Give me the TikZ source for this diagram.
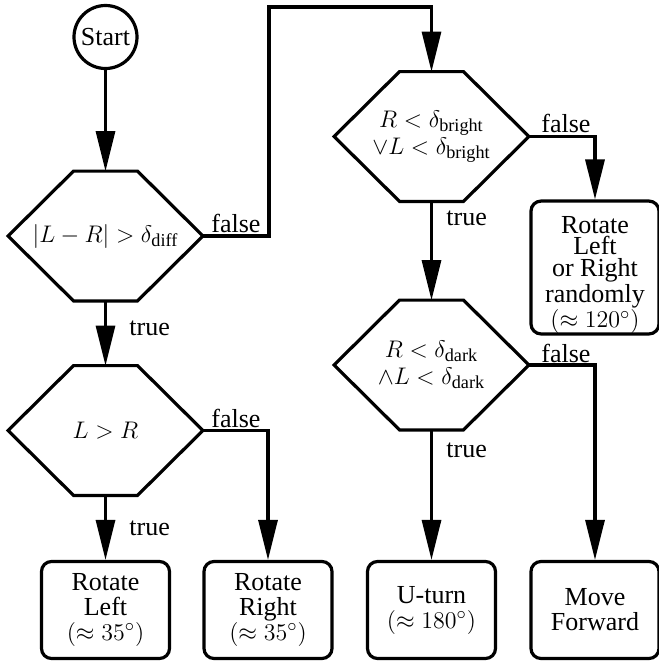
\documentclass[tikz,border=0pt]{standalone}
\usepackage{amsmath}
\usepackage{fontspec}
\setmainfont{Liberation Serif}
\usetikzlibrary{arrows.meta}

% outline of a decision hexagon around a (borderless) node
\newcommand\hexframe[1]{%
  \draw[frame] (#1.west) -- ([xshift=-16pt]#1.north) -- ([xshift=16pt]#1.north)
    -- (#1.east) -- ([xshift=16pt]#1.south) -- ([xshift=-16pt]#1.south) -- cycle;}

\tikzset{
  x=0.5pt, y=-0.5pt,
  every node/.style={font=\fontsize{13}{12.5}\selectfont},
  frame/.style={line width=1.6pt, line join=miter},
  startnode/.style={draw, circle, line width=1.6pt, minimum size=31.5pt, inner sep=0pt},
  decision/.style={minimum width=97pt, minimum height=64.5pt, inner sep=0pt, align=center},
  action/.style={draw, line width=1.6pt, rounded corners=5pt, minimum width=64pt,
    minimum height=48.5pt, inner sep=0pt, align=center},
  flow/.style={line width=1.6pt, -{Triangle[length=20pt,width=9.5pt]}},
  lbl/.style={inner sep=0pt, anchor=base west},
}

\begin{document}
\begin{tikzpicture}
\useasboundingbox (0,0) rectangle (659,665);

% nodes
\node[startnode] (start) at (105.5,37) {Start};
\node[decision] (h1) at (105.5,236) {$|L-R| > \delta_{\text{diff}}$};
\node[decision] (h4) at (105.5,430.5) {$L > R$};
\node[decision] (h2) at (431.5,136.5) {$R < \delta_{\text{bright}}$\\[1pt]$\vee L < \delta_{\text{bright}}$};
\node[decision] (h3) at (431.5,365) {$R < \delta_{\text{dark}}$\\[1pt]$\wedge L < \delta_{\text{dark}}$};
\hexframe{h1}
\hexframe{h2}
\hexframe{h3}
\hexframe{h4}

\node[action] (rl) at (105.5,610) {Rotate\\Left\\$(\approx 35^\circ)$};
\node[action] (rr) at (268,610) {Rotate\\Right\\$(\approx 35^\circ)$};
\node[action] (ut) at (431.5,610) {U-turn\\$(\approx 180^\circ)$};
\node[action] (mf) at (595,610) {Move\\Forward};
\node[action, minimum height=64pt, font=\fontsize{13}{10.9}\selectfont] (rnd) at (595,267.5)
  {\rule{0pt}{16pt}Rotate\\Left\\or Right\\randomly\\$(\approx 120^\circ)$};

\coordinate (c1) at (269,7);

% connectors
\draw[flow] (start) -- (h1.north);
\draw[flow] (h1.south) -- (h4.north);
\draw[flow] (h1.east) -| (c1) -| (h2.north);
\draw[flow] (h4.south) -- (rl.north);
\draw[flow] (h4.east) -| (rr.north);
\draw[flow] (h2.south) -- (h3.north);
\draw[flow] (h2.east) -| (rnd.north);
\draw[flow] (h3.south) -- (ut.north);
\draw[flow] (h3.east) -| (mf.north);

% branch labels
\node[lbl] (f1) at (211,232) {false};
\node[lbl] (f2) at (541,132) {false};
\node[lbl] (f3) at (541,362) {false};
\node[lbl] (f4) at (211,427) {false};
\node[lbl] (t1) at (129,335) {true};
\node[lbl] (t2) at (129,535) {true};
\node[lbl] (t3) at (446,225) {true};
\node[lbl] (t4) at (446,457) {true};
\end{tikzpicture}
\end{document}
